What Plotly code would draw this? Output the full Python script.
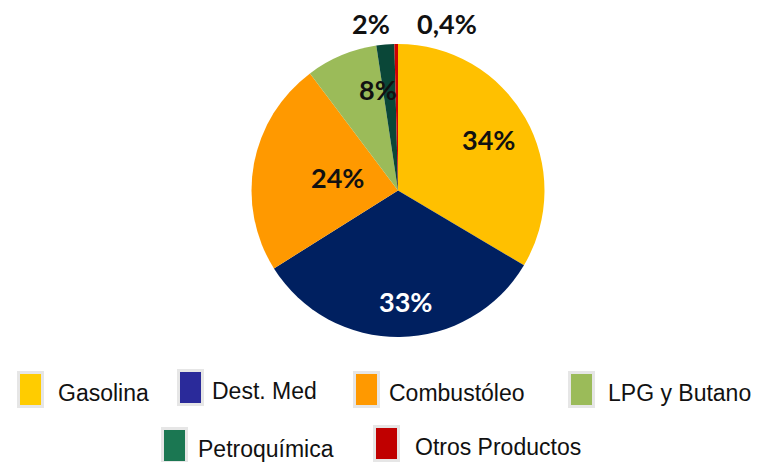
import math
import plotly.graph_objects as go

# ---- data ----
categories = ["Gasolina", "Dest. Med", "Combustóleo", "LPG y Butano", "Petroquímica", "Otros Productos"]
values = [34, 33, 24, 8, 2, 0.4]
value_labels = ["34%", "33%", "24%", "8%", "2%", "0,4%"]

# ---- style ----
W, H = 771, 462
slice_colors = ["#FFC000", "#002060", "#FF9900", "#9BBB59", "#0A4738", "#D00000"]
legend_colors = ["#FFCC00", "#2A2A9A", "#FF9900", "#9BBB59", "#1B7752", "#C00000"]
label_colors = ["#111111", "#FFFFFF", "#111111", "#111111", "#111111", "#111111"]
# label placement: radius fraction and angular shift (deg) relative to slice middle
label_rfrac = [0.705, 0.762, 0.42, 0.70, 1.158, 1.19]
label_dang = [0.3, -2.9, 2.2, 11.4, -4.2, 17.0]

cx_px, cy_px, R_px = 398, 190.5, 146.5

fig = go.Figure(go.Pie(
    labels=categories,
    values=values,
    sort=False,
    direction="clockwise",
    rotation=0,
    marker=dict(colors=slice_colors, line=dict(width=0)),
    textinfo="none",
    hoverinfo="label+percent",
    showlegend=False,
    domain=dict(x=[(cx_px - R_px) / W, (cx_px + R_px) / W],
                y=[1 - (cy_px + R_px) / H, 1 - (cy_px - R_px) / H]),
))

# value labels computed from the slice angles
total = sum(values)
cum = 0.0
annotations = []
for v, txt, col, rf, da in zip(values, value_labels, label_colors, label_rfrac, label_dang):
    mid = (cum + v / 2) / total * 360.0 + da
    cum += v
    th = math.radians(mid)
    px = cx_px + rf * R_px * math.sin(th)
    py = cy_px - rf * R_px * math.cos(th)
    annotations.append(dict(
        x=px / W, y=1 - py / H, xref="paper", yref="paper",
        text=txt, showarrow=False, xanchor="center", yanchor="middle",
        font=dict(family="Lato", size=27, color=col, weight="bold"),
    ))

# custom legend (swatch box + label)
legend_swatch_x = [17, 177, 353, 568, 161, 373]
legend_swatch_y = [371, 369, 371, 371, 427, 425]
legend_text_x = [56, 210, 387, 606, 196, 413]
sw_w, sw_h = 27, 37
shapes = []
for name, col, sx, sy, tx in zip(categories, legend_colors, legend_swatch_x, legend_swatch_y, legend_text_x):
    shapes.append(dict(
        type="rect", xref="paper", yref="paper",
        x0=(sx + 1.5) / W, x1=(sx + sw_w - 1.5) / W,
        y0=1 - (sy + sw_h - 1.5) / H, y1=1 - (sy + 1.5) / H,
        fillcolor=col, line=dict(color="#E6E6E6", width=3),
    ))
    annotations.append(dict(
        x=tx / W, y=1 - (sy + sw_h / 2 + 3) / H, xref="paper", yref="paper",
        text=name, showarrow=False, xanchor="left", yanchor="middle",
        font=dict(family="Liberation Sans, Arial", size=23, color="#111111"),
    ))

fig.update_layout(
    width=W, height=H,
    margin=dict(l=0, r=0, t=0, b=0),
    paper_bgcolor="white", plot_bgcolor="white",
    annotations=annotations, shapes=shapes,
)

fig.write_html("out.html", config={"displayModeBar": False},
               post_script="document.body.style.margin='0';document.body.style.overflow='hidden';")
